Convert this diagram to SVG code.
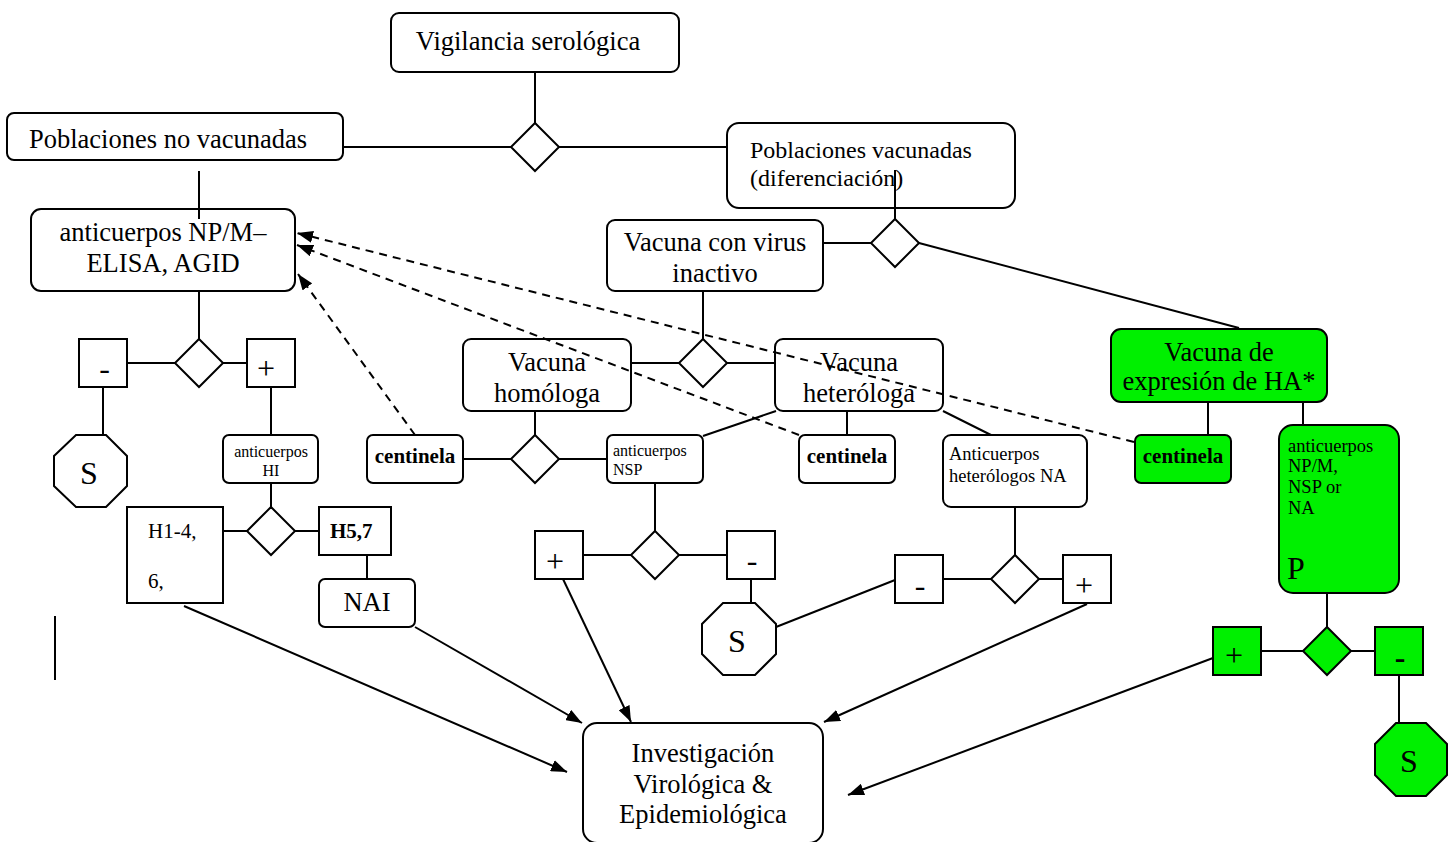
<svg xmlns="http://www.w3.org/2000/svg" width="1456" height="842" viewBox="0 0 1456 842">
<defs>
<style>
.b{fill:#fff;stroke:#000;stroke-width:2}
.g{fill:#00f000;stroke:#000;stroke-width:2}
.l{stroke:#000;stroke-width:2;fill:none}
.d{stroke:#000;stroke-width:2;fill:none;stroke-dasharray:8,6}
text{font-family:"Liberation Serif","Times New Roman",serif;fill:#000}
.t22{font-size:26.5px}
.t19{font-size:24px}
.t17{font-size:21px}
.t15{font-size:18.5px}
.t13{font-size:16px}
.ts{font-size:32px}
.tS{font-size:32px}
.bd{font-weight:bold}
.m{text-anchor:middle}
</style>
<marker id="ah" viewBox="0 0 16 12" refX="16" refY="6" markerWidth="16" markerHeight="12" markerUnits="userSpaceOnUse" orient="auto">
<path d="M0,0 L16,6 L0,12 Z" fill="#000"/>
</marker>
</defs>
<rect width="1456" height="842" fill="#fff"/>

<g id="vigilancia">
<rect class="b" x="391" y="13" width="288" height="59" rx="8"/>
<text class="t22 m" x="528" y="50">Vigilancia serológica</text>
</g>
<g id="d1"><polygon class="b" points="535,123 559,147 535,171 511,147"/></g>
<g id="no-vacunadas">
<rect class="b" x="7" y="113" width="336" height="47" rx="7"/>
<text class="t22" x="29" y="148">Poblaciones no vacunadas</text>
</g>
<g id="vacunadas">
<rect class="b" x="727" y="123" width="288" height="85" rx="12"/>
<text class="t19" x="750" y="158">Poblaciones vacunadas</text>
<text class="t19" x="750" y="186">(diferenciación)</text>
</g>
<g id="d2"><polygon class="b" points="895,219 919,243 895,267 871,243"/></g>
<g id="inactivo">
<rect class="b" x="607" y="220" width="216" height="71" rx="8"/>
<text class="t22 m" x="715" y="251">Vacuna con virus</text>
<text class="t22 m" x="715" y="282">inactivo</text>
</g>
<g id="d3"><polygon class="b" points="703,339 727,363 703,387 679,363"/></g>
<g id="homologa">
<rect class="b" x="463" y="339" width="168" height="72" rx="8"/>
<text class="t22 m" x="547" y="371">Vacuna</text>
<text class="t22 m" x="547" y="402">homóloga</text>
</g>
<g id="heterologa">
<rect class="b" x="775" y="339" width="168" height="72" rx="8"/>
<text class="t22 m" x="859" y="371">Vacuna</text>
<text class="t22 m" x="859" y="402">heteróloga</text>
</g>
<g id="npm">
<rect class="b" x="31" y="209" width="264" height="82" rx="10"/>
<text class="t22 m" x="163" y="241">anticuerpos NP/M–</text>
<text class="t22 m" x="163" y="272">ELISA, AGID</text>
</g>
<g id="d4"><polygon class="b" points="199,339 223,363 199,387 175,363"/></g>
<g id="neg1"><rect class="b" x="79" y="339" width="48" height="48"/><text class="ts m" x="104.5" y="379">-</text></g>
<g id="pos1"><rect class="b" x="247" y="339" width="48" height="48"/><text class="ts m" x="266" y="379">+</text></g>
<g id="s1">
<polygon class="b" points="76,435 106,435 127,456 127,486 106,507 76,507 54,486 54,456"/>
<text class="tS m" x="89" y="484">S</text>
</g>
<g id="hi">
<rect class="b" x="223" y="435" width="95" height="48" rx="6"/>
<text class="t13 m" x="271" y="457">anticuerpos</text>
<text class="t13 m" x="271" y="476">HI</text>
</g>
<g id="d5"><polygon class="b" points="271,507 295,531 271,555 247,531"/></g>
<g id="h14">
<rect class="b" x="127" y="507" width="96" height="96"/>
<text class="t17" x="148" y="538">H1-4,</text>
<text class="t17" x="148" y="588">6,</text>
</g>
<g id="h57">
<rect class="b" x="319" y="507" width="72" height="48"/>
<text class="t17 bd" x="330" y="538">H5,7</text>
</g>
<g id="nai">
<rect class="b" x="319" y="579" width="96" height="48" rx="6"/>
<text class="t22 m" x="367" y="611">NAI</text>
</g>
<g id="centinela1">
<rect class="b" x="367" y="435" width="96" height="48" rx="6"/>
<text class="t17 bd m" x="415" y="463">centinela</text>
</g>
<g id="d6"><polygon class="b" points="535,435 559,459 535,483 511,459"/></g>
<g id="nsp">
<rect class="b" x="607" y="435" width="96" height="48" rx="6"/>
<text class="t13" x="613" y="456">anticuerpos</text>
<text class="t13" x="613" y="475">NSP</text>
</g>
<g id="centinela2">
<rect class="b" x="799" y="435" width="96" height="48" rx="6"/>
<text class="t17 bd m" x="847" y="463">centinela</text>
</g>
<g id="na">
<rect class="b" x="943" y="435" width="144" height="72" rx="8"/>
<text class="t15" x="949" y="460">Anticuerpos</text>
<text class="t15" x="949" y="482">heterólogos NA</text>
</g>
<g id="d7"><polygon class="b" points="655,531 679,555 655,579 631,555"/></g>
<g id="pos2"><rect class="b" x="535" y="531" width="48" height="48"/><text class="ts m" x="555" y="572">+</text></g>
<g id="neg2"><rect class="b" x="727" y="531" width="48" height="48"/><text class="ts m" x="752" y="571">-</text></g>
<g id="s2">
<polygon class="b" points="723,603 755,603 776,624 776,654 755,675 723,675 702,654 702,624"/>
<text class="tS m" x="737" y="652">S</text>
</g>
<g id="d8"><polygon class="b" points="1015,555 1039,579 1015,603 991,579"/></g>
<g id="neg3"><rect class="b" x="895" y="555" width="48" height="48"/><text class="ts m" x="920" y="596">-</text></g>
<g id="pos3"><rect class="b" x="1063" y="555" width="48" height="48"/><text class="ts m" x="1084" y="596">+</text></g>
<g id="ha">
<rect class="g" x="1111" y="329" width="216" height="73" rx="10"/>
<text class="t22 m" x="1219" y="361">Vacuna de</text>
<text class="t22 m" x="1219" y="390">expresión de HA*</text>
</g>
<g id="centinela3">
<rect class="g" x="1135" y="435" width="96" height="48" rx="6"/>
<text class="t17 bd m" x="1183" y="463">centinela</text>
</g>
<g id="green-ab">
<rect class="g" x="1279" y="425" width="120" height="168" rx="14"/>
<text class="t15" x="1288" y="452">anticuerpos</text>
<text class="t15" x="1288" y="472">NP/M,</text>
<text class="t15" x="1288" y="493">NSP or</text>
<text class="t15" x="1288" y="514">NA</text>
<text class="tS" x="1287" y="579">P</text>
</g>
<g id="d9"><polygon class="g" points="1327,627 1351,651 1327,675 1303,651"/></g>
<g id="pos4"><rect class="g" x="1213" y="627" width="48" height="48"/><text class="ts m" x="1234" y="666">+</text></g>
<g id="neg4"><rect class="g" x="1375" y="627" width="48" height="48"/><text class="ts m bd" x="1400" y="668">-</text></g>
<g id="s3">
<polygon class="g" points="1396,723 1426,723 1447,744 1447,775 1426,796 1396,796 1375,775 1375,744"/>
<text class="tS m" x="1409" y="772">S</text>
</g>
<g id="investigacion">
<rect class="b" x="583" y="723" width="240" height="120" rx="14"/>
<text class="t22 m" x="703" y="762">Investigación</text>
<text class="t22 m" x="703" y="793">Virológica &amp;</text>
<text class="t22 m" x="703" y="823">Epidemiológica</text>
</g>

<g id="connectors">
<line class="l" x1="535" y1="72" x2="535" y2="123"/>
<line class="l" x1="342" y1="147" x2="511" y2="147"/>
<line class="l" x1="559" y1="147" x2="727" y2="147"/>
<line class="l" x1="199" y1="171" x2="199" y2="219"/>
<line class="l" x1="895" y1="170" x2="895" y2="219"/>
<line class="l" x1="823" y1="243" x2="871" y2="243"/>
<line class="l" x1="919" y1="243" x2="1239" y2="328"/>
<line class="l" x1="703" y1="291" x2="703" y2="339"/>
<line class="l" x1="631" y1="363" x2="679" y2="363"/>
<line class="l" x1="727" y1="363" x2="775" y2="363"/>
<line class="l" x1="199" y1="291" x2="199" y2="339"/>
<line class="l" x1="127" y1="363" x2="175" y2="363"/>
<line class="l" x1="223" y1="363" x2="247" y2="363"/>
<line class="l" x1="103" y1="387" x2="103" y2="435"/>
<line class="l" x1="271" y1="387" x2="271" y2="435"/>
<line class="l" x1="271" y1="483" x2="271" y2="507"/>
<line class="l" x1="223" y1="531" x2="247" y2="531"/>
<line class="l" x1="295" y1="531" x2="319" y2="531"/>
<line class="l" x1="367" y1="555" x2="367" y2="579"/>
<line class="l" x1="55" y1="616" x2="55" y2="680"/>
<line class="l" x1="184" y1="606" x2="567" y2="772" marker-end="url(#ah)"/>
<line class="l" x1="415" y1="627" x2="582" y2="723" marker-end="url(#ah)"/>
<line class="l" x1="563" y1="579" x2="631" y2="722" marker-end="url(#ah)"/>
<line class="l" x1="1087" y1="604" x2="824" y2="722" marker-end="url(#ah)"/>
<line class="l" x1="1213" y1="658" x2="848" y2="795" marker-end="url(#ah)"/>
<line class="l" x1="535" y1="411" x2="535" y2="435"/>
<line class="l" x1="463" y1="459" x2="511" y2="459"/>
<line class="l" x1="559" y1="459" x2="607" y2="459"/>
<line class="l" x1="776" y1="411" x2="703" y2="436"/>
<line class="l" x1="847" y1="411" x2="847" y2="435"/>
<line class="l" x1="943" y1="411" x2="991" y2="435"/>
<line class="l" x1="655" y1="483" x2="655" y2="531"/>
<line class="l" x1="583" y1="555" x2="631" y2="555"/>
<line class="l" x1="679" y1="555" x2="727" y2="555"/>
<line class="l" x1="751" y1="579" x2="751" y2="603"/>
<line class="l" x1="776" y1="627" x2="895" y2="580"/>
<line class="l" x1="1015" y1="507" x2="1015" y2="555"/>
<line class="l" x1="943" y1="579" x2="991" y2="579"/>
<line class="l" x1="1039" y1="579" x2="1063" y2="579"/>
<line class="l" x1="1208" y1="402" x2="1208" y2="435"/>
<line class="l" x1="1303" y1="402" x2="1303" y2="425"/>
<line class="l" x1="1327" y1="593" x2="1327" y2="627"/>
<line class="l" x1="1261" y1="651" x2="1303" y2="651"/>
<line class="l" x1="1351" y1="651" x2="1375" y2="651"/>
<line class="l" x1="1399" y1="675" x2="1399" y2="723"/>
<line class="d" x1="415" y1="435" x2="298" y2="274" marker-end="url(#ah)"/>
<line class="d" x1="799" y1="435" x2="297" y2="245" marker-end="url(#ah)"/>
<line class="d" x1="1134" y1="442" x2="297" y2="233" marker-end="url(#ah)"/>
</g>
</svg>
